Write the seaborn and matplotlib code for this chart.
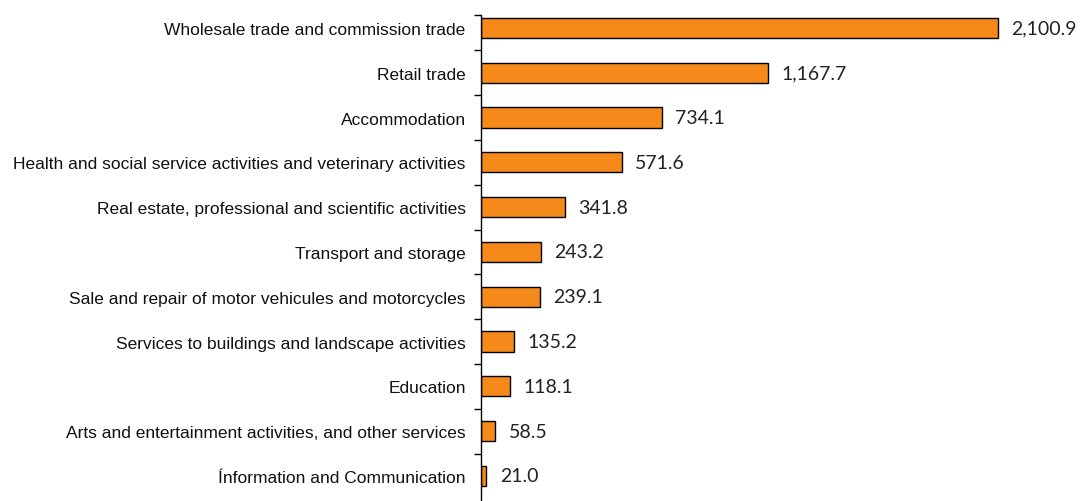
import matplotlib
matplotlib.use("Agg")
import matplotlib.pyplot as plt
import seaborn as sns
import pandas as pd
import numpy as np

# categories and values
sectors = [
    "Wholesale trade and commission trade",
    "Retail trade",
    "Accommodation",
    "Health and social service activities and veterinary activities",
    "Real estate, professional and scientific activities",
    "Transport and storage",
    "Sale and repair of motor vehicules and motorcycles",
    "Services to buildings and landscape activities",
    "Education",
    "Arts and entertainment activities, and other services",
    "Ínformation and Communication",
]
values = [2100.9, 1167.7, 734.1, 571.6, 341.8, 243.2, 239.1, 135.2, 118.1, 58.5, 21.0]

df = pd.DataFrame({"sector": sectors, "value": values})

sns.set_style("white")
plt.rcParams["font.family"] = ["Liberation Sans", "DejaVu Sans"]

fig = plt.figure(figsize=(10.82, 5.02), dpi=100)
ax = fig.add_axes([481 / 1082, 0.0, 1 - 481 / 1082, 1 - 16 / 502])

sns.barplot(data=df, x="value", y="sector", ax=ax, color="#F5891A",
            edgecolor="black", linewidth=1.0, width=0.45, saturation=1)

# value labels
for i, v in enumerate(values):
    ax.text(v + 55, i, f"{v:,.1f}", va="center", ha="left",
            fontsize=14, family=["Lato", "DejaVu Sans"], color="#222222")

ax.set_xlim(0, 2443)
ax.set_ylim(10.56, -0.29)
ax.set_xlabel("")
ax.set_ylabel("")
ax.set_xticks([])

# tick marks between categories, labels at bar centres
ax.set_yticks(np.arange(len(sectors)))
ax.set_yticklabels(sectors, fontsize=12.5, color="#111111")
ax.tick_params(axis="y", which="major", left=False, length=0, pad=11)
ax.set_yticks([-0.29] + list(np.arange(0.5, len(sectors) - 1, 1.0)), minor=True)
ax.tick_params(axis="y", which="minor", left=True, length=5, width=1,
               color="black", direction="out")

for s in ["top", "right", "bottom"]:
    ax.spines[s].set_visible(False)
ax.spines["left"].set_color("black")
ax.spines["left"].set_linewidth(1.0)

fig.savefig("out.png", dpi=100)
